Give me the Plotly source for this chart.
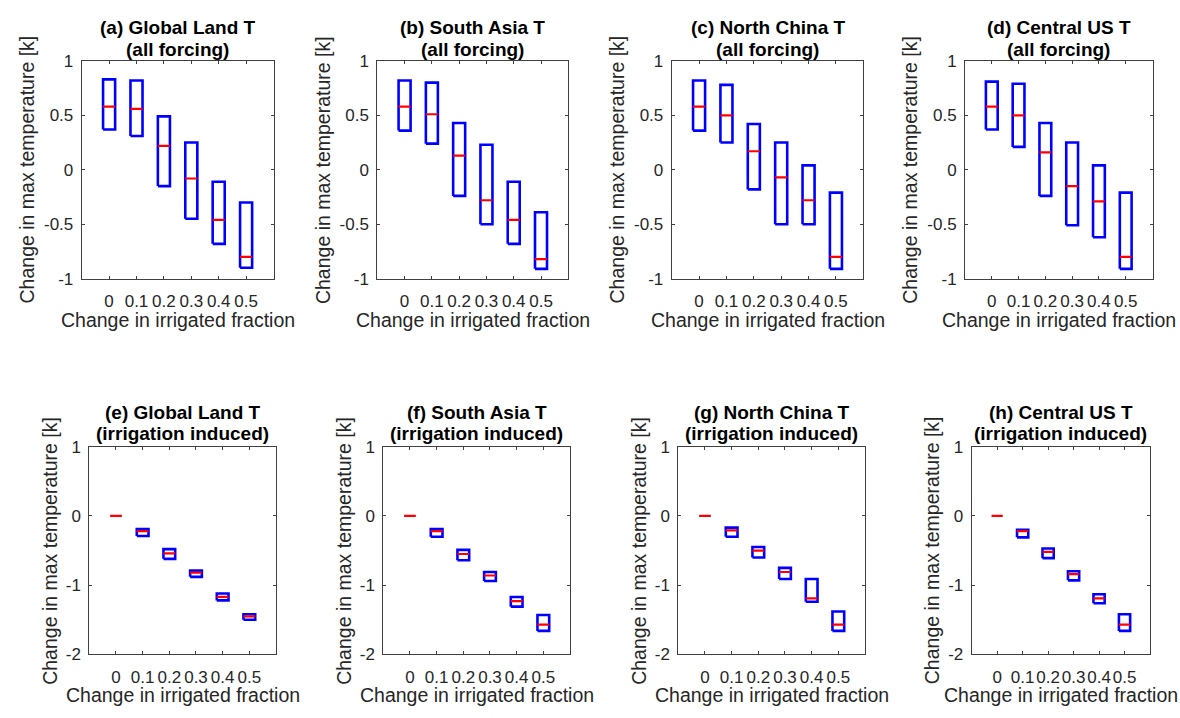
import plotly.graph_objects as go

# ---------------- data ----------------
frac_labels = ["0", "0.1", "0.2", "0.3", "0.4", "0.5"]
positions = [1, 2, 3, 4, 5, 6]

top_titles = ["(a) Global Land T", "(b) South Asia T", "(c) North China T", "(d) Central US T"]
bot_titles = ["(e) Global Land T", "(f) South Asia T", "(g) North China T", "(h) Central US T"]
top_sub = "(all forcing)"
bot_sub = "(irrigation induced)"

# all forcing: upper quartile, lower quartile, median
a_q3 = [0.83, 0.82, 0.49, 0.25, -0.11, -0.30]
a_q1 = [0.37, 0.31, -0.15, -0.45, -0.68, -0.90]
a_med = [0.58, 0.56, 0.22, -0.08, -0.46, -0.80]

b_q3 = [0.82, 0.80, 0.43, 0.23, -0.11, -0.39]
b_q1 = [0.36, 0.24, -0.24, -0.50, -0.68, -0.91]
b_med = [0.58, 0.51, 0.13, -0.28, -0.46, -0.82]

c_q3 = [0.82, 0.78, 0.42, 0.25, 0.04, -0.21]
c_q1 = [0.36, 0.25, -0.18, -0.50, -0.50, -0.91]
c_med = [0.58, 0.50, 0.17, -0.07, -0.28, -0.80]

d_q3 = [0.81, 0.79, 0.43, 0.25, 0.04, -0.21]
d_q1 = [0.37, 0.21, -0.24, -0.51, -0.62, -0.91]
d_med = [0.58, 0.50, 0.16, -0.15, -0.29, -0.80]

# irrigation induced
e_q3 = [0.0, -0.19, -0.48, -0.79, -1.12, -1.42]
e_q1 = [0.0, -0.29, -0.62, -0.88, -1.22, -1.50]
e_med = [0.0, -0.22, -0.54, -0.82, -1.17, -1.45]

f_q3 = [0.0, -0.19, -0.49, -0.81, -1.17, -1.43]
f_q1 = [0.0, -0.30, -0.64, -0.94, -1.31, -1.66]
f_med = [0.0, -0.22, -0.55, -0.86, -1.23, -1.57]

g_q3 = [0.0, -0.17, -0.45, -0.75, -0.91, -1.38]
g_q1 = [0.0, -0.30, -0.60, -0.91, -1.24, -1.66]
g_med = [0.0, -0.21, -0.50, -0.81, -1.19, -1.57]

h_q3 = [0.0, -0.20, -0.47, -0.80, -1.13, -1.42]
h_q1 = [0.0, -0.31, -0.61, -0.93, -1.26, -1.66]
h_med = [0.0, -0.22, -0.52, -0.84, -1.19, -1.57]

panels_data = [
    (a_q3, a_q1, a_med), (b_q3, b_q1, b_med), (c_q3, c_q1, c_med), (d_q3, d_q1, d_med),
    (e_q3, e_q1, e_med), (f_q3, f_q1, f_med), (g_q3, g_q1, g_med), (h_q3, h_q1, h_med),
]

# ---------------- layout geometry (pixels) ----------------
W, H = 1180, 718
top_y = (53.3, 277.0)
bot_y = (449.5, 663.0)
top_x = [(81.7, 273.5), (377.3, 568.3), (671.7, 863.3), (965.0, 1152.5)]
bot_x = [(89.3, 276.0), (383.3, 570.0), (678.3, 865.0), (971.7, 1150.0)]

HALF = 0.22
BLUE = "#0000FF"
RED = "#FF0000"
AX = "#404040"
TXT = "#262626"
FONT = "Liberation Sans, Arial, Helvetica, sans-serif"

fig = go.Figure()
layout = dict(
    width=W, height=H, margin=dict(l=0, r=0, t=0, b=0),
    paper_bgcolor="white", plot_bgcolor="white", showlegend=False,
)
annotations = []

for k in range(8):
    q3, q1, med = panels_data[k]
    top = k < 4
    xs = (top_x if top else bot_x)[k % 4]
    ys = top_y if top else bot_y
    xn = "x" if k == 0 else f"x{k+1}"
    yn = "y" if k == 0 else f"y{k+1}"
    xkey = "xaxis" if k == 0 else f"xaxis{k+1}"
    ykey = "yaxis" if k == 0 else f"yaxis{k+1}"

    bx, by, mx, my = [], [], [], []
    for p, hi, lo, m in zip(positions, q3, q1, med):
        if hi > lo:
            bx += [p - HALF, p + HALF, p + HALF, p - HALF, p - HALF, None]
            by += [lo, lo, hi, hi, lo, None]
        mx += [p - HALF, p + HALF, None]
        my += [m, m, None]
    fig.add_trace(go.Scatter(x=bx, y=by, mode="lines", xaxis=xn, yaxis=yn,
                             line=dict(color=BLUE, width=2.6), hoverinfo="skip"))
    fig.add_trace(go.Scatter(x=mx, y=my, mode="lines", xaxis=xn, yaxis=yn,
                             line=dict(color=RED, width=2.2), hoverinfo="skip"))

    axcommon = dict(showline=True, linecolor=AX, linewidth=1, mirror="allticks",
                    ticks="inside", ticklen=3, tickcolor=AX, showgrid=False,
                    zeroline=False, tickfont=dict(family=FONT, size=17, color=TXT))
    layout[xkey] = dict(axcommon, domain=[xs[0] / W, xs[1] / W], range=[0, 7],
                        tickmode="array", tickvals=positions, ticktext=frac_labels,
                        tickangle=0, anchor=yn, ticklabelstandoff=7, fixedrange=True)
    if top:
        yt = dict(range=[-1, 1], tickvals=[-1, -0.5, 0, 0.5, 1],
                  ticktext=["-1", "-0.5", "0", "0.5", "1"])
    else:
        yt = dict(range=[-2, 1], tickvals=[-2, -1, 0, 1],
                  ticktext=["-2", "-1", "0", "1"])
    layout[ykey] = dict(axcommon, domain=[1 - ys[1] / H, 1 - ys[0] / H],
                        tickmode="array", anchor=xn, ticklabelstandoff=4,
                        fixedrange=True, **yt)

    cx = (xs[0] + xs[1]) / 2 / W
    cy = (ys[0] + ys[1]) / 2
    # titles
    t1 = (top_titles if top else bot_titles)[k % 4]
    t2 = top_sub if top else bot_sub
    l1y, l2y = (19, 42) if top else (414, 436.5)
    for txt, yy in ((t1, l1y), (t2, l2y)):
        annotations.append(dict(text=f"<b>{txt}</b>", x=cx, y=1 - yy / H, xref="paper",
                                yref="paper", showarrow=False, xanchor="center",
                                yanchor="middle", font=dict(family=FONT, size=19, color="black")))
    # x label
    xly = 319 if top else 705
    annotations.append(dict(text="Change in irrigated fraction", x=cx, y=1 - xly / H,
                            xref="paper", yref="paper", showarrow=False, xanchor="center",
                            yanchor="middle", font=dict(family=FONT, size=19.5, color=TXT)))
    # y label
    ylx = xs[0] - (55 if top else 40)
    annotations.append(dict(text="Change in max temperature [k]", x=ylx / W, y=1 - cy / H,
                            xref="paper", yref="paper", showarrow=False, textangle=-90,
                            xanchor="center", yanchor="middle",
                            font=dict(family=FONT, size=19.5, color=TXT)))

layout["annotations"] = annotations
fig.update_layout(**layout)
fig.write_html("out.html")
